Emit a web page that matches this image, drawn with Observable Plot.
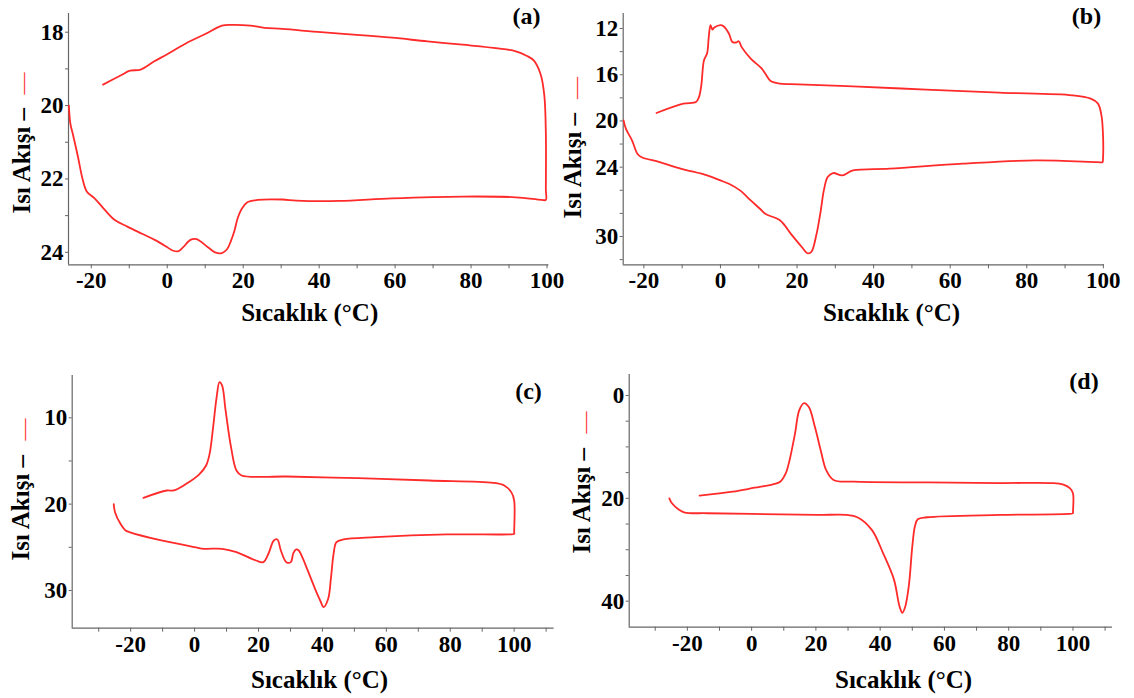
<!DOCTYPE html>
<html>
<head>
<meta charset="utf-8">
<script src="https://cdn.jsdelivr.net/npm/d3@7"></script>
<script src="https://cdn.jsdelivr.net/npm/@observablehq/plot@0.6"></script>
<style>
  html, body { margin: 0; padding: 0; background: #fff; }
  #chart { position: relative; width: 1134px; height: 698px; background: #fff; overflow: hidden; }
  #chart svg { position: absolute; }
</style>
</head>
<body>
<div id="chart"></div>
<script>
// ---------- Data (Sıcaklık °C, Isı Akışı) ----------
// Panel (a)
const aT = [-16.9, -12.3, -9.8, -7.0, -3.5, 0, 5, 10, 14.4, 17, 21.9, 25.6, 30.3, 40.5, 49.9, 59.2, 68.5, 77.8, 87.1, 91.8, 94.6, 96.5, 98.3, 99.3, 99.7, 99.7, 99.7, 98.5,
  91.8, 77.8, 59.2, 45.2, 34, 30.3, 23.8, 21, 19.6, 18.6, 17.7, 16.8, 15.8, 14.4, 12.6, 10.7, 7.7, 6.1, 4.2, 3.0, 1.4, 0, -3.3, -6.5, -10.5, -13.8, -16.8, -19.2, -21.2, -22.3, -23.5, -24.8, -25.5, -25.9];
const aQ = [19.43, 19.18, 19.05, 19.02, 18.8, 18.6, 18.3, 18.05, 17.82, 17.8, 17.82, 17.88, 17.91, 18.0, 18.07, 18.15, 18.25, 18.34, 18.44, 18.52, 18.64, 18.77, 19.14, 19.73, 20.77, 22.3, 22.57, 22.57,
  22.5, 22.48, 22.53, 22.6, 22.59, 22.56, 22.57, 22.64, 22.82, 23.05, 23.41, 23.68, 23.91, 24.02, 24.0, 23.86, 23.64, 23.66, 23.86, 23.97, 23.95, 23.86, 23.66, 23.5, 23.3, 23.12, 22.8, 22.52, 22.34, 22.0, 21.4, 20.8, 20.5, 20.0];

// Panel (b)
const bT = [-16.7, -9.7, -6.4, -5.6, -5.0, -4.3, -3.5, -3.05, -2.6, -2.1, -1.6, 0, 0.8, 2.2, 3.1, 4.1, 4.8, 5.5, 7.9, 10.8, 11.7, 13.2, 15.6, 20.3, 34.6, 53.7, 72.8, 91.9, 96.7, 98.6, 99.5, 99.9, 99.9, 99.8, 98.5,
  82.3, 63.3, 44.2, 34.6, 31.8, 29.4, 28.0, 27.0, 26.2, 25.1, 23.7, 22.7, 21.3, 18.4, 15.6, 11.7, 10.3, 7.9, 5.1, 2.2, 0, -3.5, -10.2, -15.9, -20.7, -21.7, -23.1, -24.7, -25.3];
const bQ = [19.31, 18.5, 18.36, 17.92, 16.91, 14.74, 14.17, 12.72, 11.71, 12.09, 11.91, 11.71, 11.8, 12.43, 13.16, 13.21, 13.1, 13.59, 14.6, 15.47, 15.9, 16.57, 16.77, 16.83, 17.0, 17.29, 17.55, 17.78, 18.07, 18.5, 19.51, 21.1, 23.3, 23.56, 23.56,
  23.41, 23.7, 24.13, 24.28, 24.71, 24.51, 24.86, 26.01, 27.75, 29.77, 31.36, 31.45, 30.93, 29.77, 28.61, 28.04, 27.6, 26.88, 26.01, 25.44, 25.15, 24.71, 24.14, 23.56, 23.12, 22.83, 21.68, 20.67, 19.95];

// Panel (c)
const cT = [-16.0, -8.7, -6.5, -2.6, 1.3, 3.6, 4.7, 5.8, 6.9, 7.8, 8.6, 9.7, 11.4, 13.1, 14.7, 28.7, 51.1, 73.4, 93.5, 96.9, 99.1, 100, 100, 100, 98.5,
  79.0, 56.6, 46.6, 44.4, 43.5, 42.7, 41.8, 40.4, 39.3, 37.7, 35.4, 33.7, 32.6, 31.8, 30.9, 30.1, 28.7, 27.0, 25.9, 24.8, 23.1, 21.5, 19.2, 13.1, 8.6, 3.0, 0, -10.4, -20.4, -21.6, -23.2, -24.9, -25.3];
const cQ = [19.27, 18.42, 18.42, 17.64, 16.6, 15.52, 14.17, 11.08, 7.61, 5.87, 6.25, 9.15, 13.4, 16.1, 16.68, 16.8, 16.99, 17.26, 17.53, 17.84, 18.61, 19.58, 23.2, 23.44, 23.5,
  23.51, 23.82, 24.09, 24.4, 25.75, 28.46, 30.97, 31.93, 31.16, 29.81, 27.68, 26.14, 25.37, 25.25, 25.68, 26.72, 26.72, 25.37, 24.09, 24.21, 25.75, 26.72, 26.53, 25.56, 25.17, 25.17, 24.98, 24.21, 23.24, 23.05, 22.28, 20.93, 20.0];

// Panel (d)
const dT = [-16.2, -5.9, 0.9, 6.6, 8.9, 10.6, 11.8, 13.5, 14.8, 16.3, 17.8, 19.7, 21.5, 23.2, 25.5, 31.7, 54.6, 77.4, 93.4, 96.8, 99.1, 100, 100, 100, 98.5,
  77.4, 54.6, 51.7, 50.8, 50.0, 48.9, 47.7, 46.9, 46.0, 44.3, 40.9, 37.4, 32.9, 29.5, 20.3, 0, -13.9, -20.8, -22.5, -24.8, -25.6];
const dQ = [19.48, 18.71, 17.94, 17.29, 16.77, 15.16, 12.58, 7.42, 2.9, 1.48, 2.26, 6.13, 10.65, 14.52, 16.45, 16.77, 16.9, 17.03, 17.03, 17.29, 18.06, 19.03, 22.7, 22.9, 23.03,
  23.23, 23.68, 24.06, 25.48, 29.35, 37.1, 41.29, 42.26, 40.97, 35.81, 30.65, 26.13, 23.68, 23.23, 23.23, 23.03, 22.9, 22.77, 22.26, 20.97, 20.0];

// Tick values
const xTicksAB = [-20, -10, 0, 10, 20, 30, 40, 50, 60, 70, 80, 90, 100];
const xTicksCD = [-30, -20, -10, 0, 10, 20, 30, 40, 50, 60, 70, 80, 90, 100, 110];
const xLabels = [-20, 0, 20, 40, 60, 80, 100];
const aYTicks = [18, 19, 20, 21, 22, 23, 24];
const aYLabels = [18, 20, 22, 24];
const bYTicks = [12, 14, 16, 18, 20, 22, 24, 26, 28, 30, 32];
const bYLabels = [12, 16, 20, 24, 30];
const cYTicks = [10, 15, 20, 25, 30];
const cYLabels = [10, 20, 30];
const dYTicks = [0, 5, 10, 15, 20, 25, 30, 35, 40];
const dYLabels = [0, 20, 40];

const xTitle = "Sıcaklık (°C)";
const yTitle = "Isı Akışı –";
const letters = ["(a)", "(b)", "(c)", "(d)"];

// ---------- Drawing ----------
const RED = "#ff2a2a";
const AXIS = "#666";
const FONT = "'Liberation Serif', 'Times New Roman', serif";

function panel(cfg) {
  const data = cfg.T.map((t, i) => ({t, q: cfg.Q[i]}));
  const txt = {fontFamily: FONT, fontWeight: "bold", fill: "#000"};
  const svg = Plot.plot({
    width: cfg.width, height: cfg.height,
    marginLeft: cfg.m[0], marginRight: cfg.m[1], marginTop: cfg.m[2], marginBottom: cfg.m[3],
    x: {domain: cfg.xDomain},
    y: {domain: cfg.yDomain},
    style: {fontFamily: FONT, fontWeight: "bold", fontSize: "23px", color: "#000", background: "transparent", overflow: "visible"},
    marks: [
      Plot.ruleX([cfg.xDomain[0]], {stroke: AXIS, strokeWidth: 1.2}),
      Plot.ruleY([cfg.yDomain[0]], {stroke: AXIS, strokeWidth: 1.2}),
      Plot.axisX({ticks: cfg.xTicks, tickSize: 4, tickFormat: () => "", stroke: AXIS, label: null}),
      Plot.axisY({ticks: cfg.yTicks, tickSize: 3, tickFormat: () => "", stroke: AXIS, label: null}),
      Plot.text(xLabels, {x: d => d, text: d => String(d), frameAnchor: "bottom", dy: 7, lineAnchor: "top", textAnchor: "middle", fontSize: 23, ...txt}),
      Plot.text(cfg.yLabels, {y: d => d, text: d => String(d), frameAnchor: "left", dx: -5, lineAnchor: "middle", textAnchor: "end", fontSize: 23, ...txt}),
      Plot.line(data, {x: "t", y: "q", stroke: RED, strokeWidth: 1.8, curve: "catmull-rom"}),
      Plot.text([xTitle], {text: d => d, frameAnchor: "bottom", dx: cfg.xt[0], dy: cfg.xt[1], lineAnchor: "bottom", textAnchor: "middle", fontSize: 25, ...txt}),
      Plot.text([yTitle], {text: d => d, frameAnchor: "top-left", dx: cfg.yt[0], dy: cfg.yt[1], rotate: -90, textAnchor: "start", lineAnchor: "middle", fontSize: 25, ...txt}),
      Plot.text(["—"], {text: d => d, frameAnchor: "top-left", dx: cfg.rd[0], dy: cfg.rd[1], rotate: -90, textAnchor: "middle", lineAnchor: "middle", fontSize: 22, fontFamily: FONT, fontWeight: "normal", fill: RED}),
      Plot.text([cfg.letter], {text: d => d, frameAnchor: "top-left", dx: cfg.lt[0], dy: cfg.lt[1], lineAnchor: "bottom", textAnchor: "middle", fontSize: 24, ...txt})
    ]
  });
  svg.style.left = cfg.left + "px";
  svg.style.top = cfg.top + "px";
  document.getElementById("chart").appendChild(svg);
}

panel({T: aT, Q: aQ, left: 0, top: 0, width: 567, height: 340, m: [68, 18.6, 13, 75.7],
  xDomain: [-26, 100.5], yDomain: [24.34, 17.49], xTicks: xTicksAB, yTicks: aYTicks, yLabels: aYLabels,
  xt: [1, 56.4], yt: [-47, 200], rd: [-45.3, 70], lt: [458, 10], letter: letters[0]});

panel({T: bT, Q: bQ, left: 567, top: 0, width: 567, height: 340, m: [55.7, 30, 13, 75.7],
  xDomain: [-25.4, 100.3], yDomain: [32.45, 10.7], xTicks: xTicksAB, yTicks: bYTicks, yLabels: bYLabels,
  xt: [27.7, 56], yt: [-50.7, 205], rd: [-47, 74.5], lt: [463.3, 10], letter: letters[1]});

panel({T: cT, Q: cQ, left: 0, top: 350, width: 567, height: 348, m: [71.7, 13.4, 25, 70.3],
  xDomain: [-38.3, 112.5], yDomain: [34.37, 5.1], xTicks: xTicksCD, yTicks: cYTicks, yLabels: cYLabels,
  xt: [6.4, 60], yt: [-50.7, 185], rd: [-48.4, 54], lt: [456.3, 23], letter: letters[2]});

panel({T: dT, Q: dQ, left: 567, top: 350, width: 567, height: 348, m: [61.7, 22, 24, 71.3],
  xDomain: [-38.1, 112.3], yDomain: [45.06, -4.08], xTicks: xTicksCD, yTicks: dYTicks, yLabels: dYLabels,
  xt: [32.7, 61], yt: [-47.7, 179], rd: [-44.7, 48], lt: [454.8, 14], letter: letters[3]});
</script>
</body>
</html>
